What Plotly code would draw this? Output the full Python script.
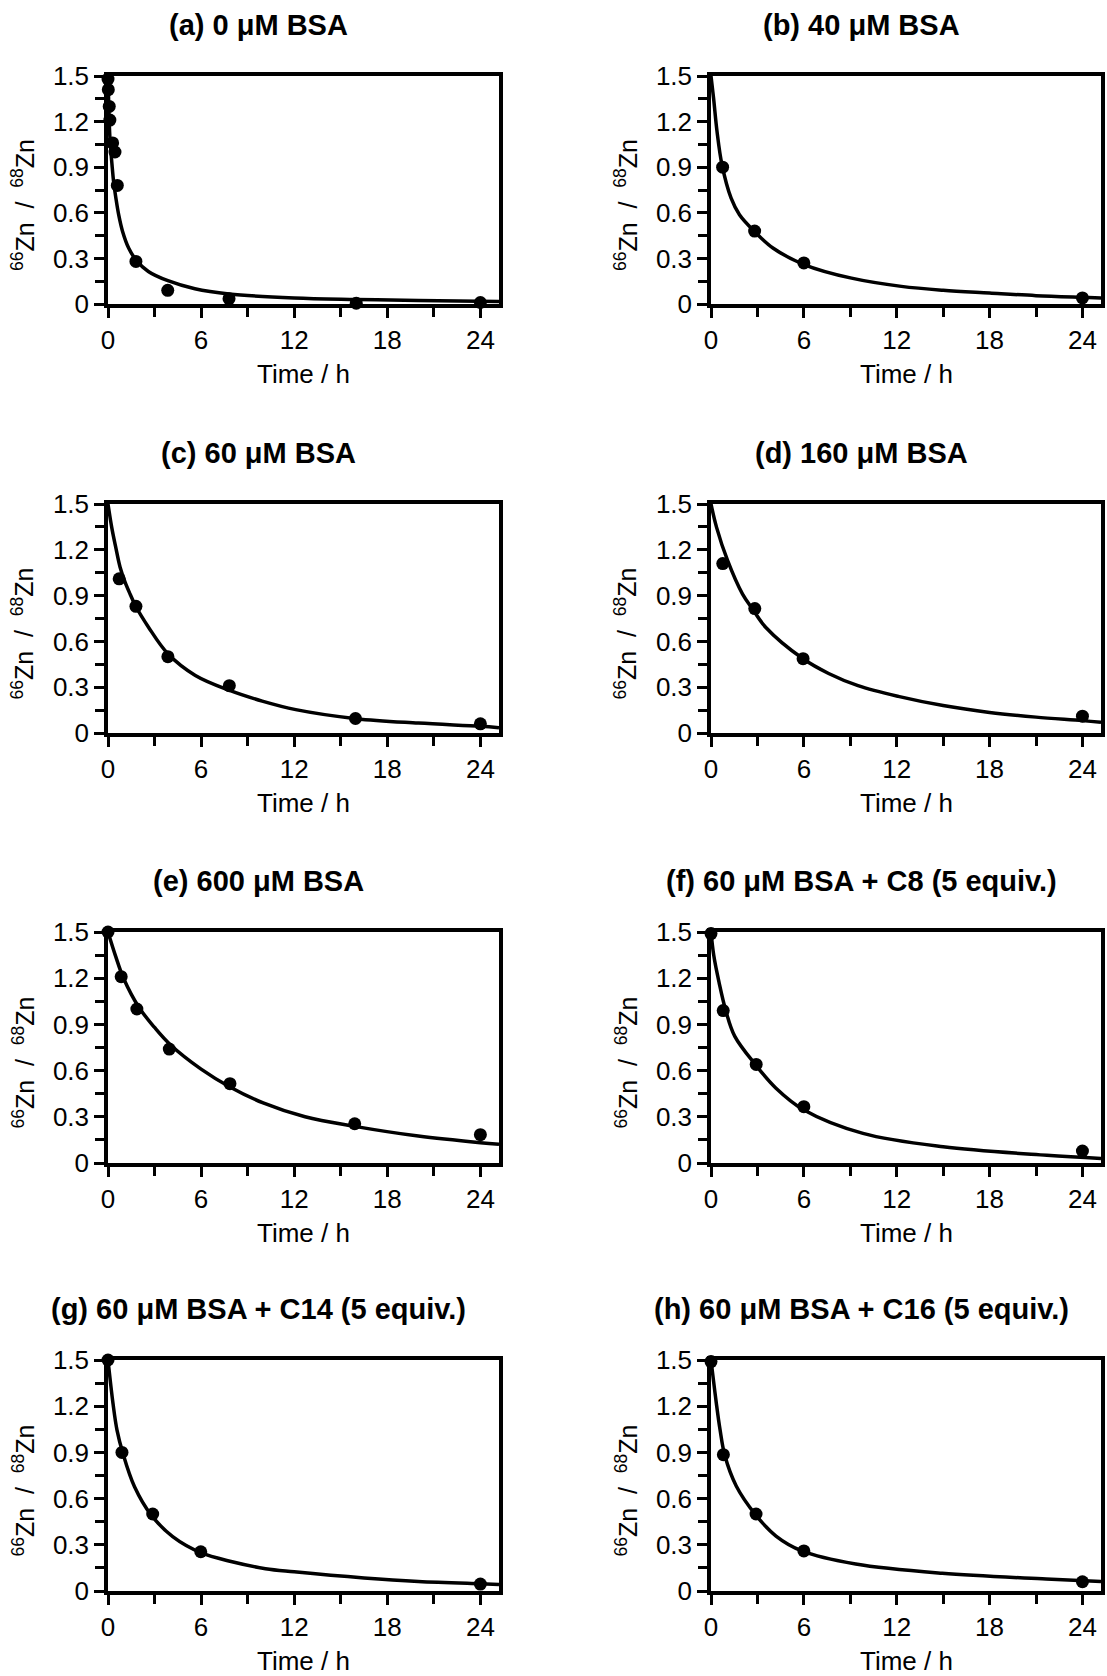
import plotly.graph_objects as go

# panel titles
titles = ["(a) 0 μM BSA", "(b) 40 μM BSA", "(c) 60 μM BSA", "(d) 160 μM BSA",
          "(e) 600 μM BSA", "(f) 60 μM BSA + C8 (5 equiv.)",
          "(g) 60 μM BSA + C14 (5 equiv.)", "(h) 60 μM BSA + C16 (5 equiv.)"]

# measured points (time in h, 66Zn/68Zn)
a_t = [0, 0.02, 0.08, 0.12, 0.3, 0.45, 0.6, 1.8, 3.85, 7.8, 16, 24]
a_y = [1.48, 1.41, 1.30, 1.21, 1.06, 1.0, 0.78, 0.28, 0.09, 0.035, 0.005, 0.01]
b_t = [0.75, 2.82, 6, 24]
b_y = [0.9, 0.48, 0.27, 0.04]
c_t = [0.72, 1.8, 3.86, 7.82, 15.95, 24]
c_y = [1.01, 0.83, 0.50, 0.31, 0.095, 0.06]
d_t = [0.76, 2.83, 5.95, 24]
d_y = [1.11, 0.815, 0.487, 0.11]
e_t = [0, 0.85, 1.86, 3.95, 7.86, 15.9, 24]
e_y = [1.5, 1.21, 1.0, 0.74, 0.515, 0.255, 0.184]
f_t = [0, 0.79, 2.92, 6.0, 24]
f_y = [1.49, 0.99, 0.64, 0.366, 0.078]
g_t = [0, 0.9, 2.88, 5.98, 24]
g_y = [1.5, 0.9, 0.5, 0.255, 0.045]
h_t = [0, 0.8, 2.91, 6.0, 24]
h_y = [1.49, 0.885, 0.5, 0.26, 0.06]

# fitted curves
a_fit_t = [0, 0.05, 0.12, 0.26, 0.36, 0.51, 0.69, 0.94, 1.33, 1.8, 2.6, 3.86, 5.6, 7.8, 12, 16, 20, 25.2]
a_fit_y = [1.5, 1.3, 1.1, 0.915, 0.805, 0.696, 0.586, 0.477, 0.368, 0.291, 0.214, 0.153, 0.10, 0.066, 0.04, 0.03, 0.023, 0.016]
b_fit_t = [0, 0.17, 0.39, 0.71, 1.3, 1.84, 2.81, 4.0, 6.05, 9.08, 12.3, 15, 18, 21, 24, 25.2]
b_fit_y = [1.5, 1.35, 1.134, 0.915, 0.696, 0.587, 0.477, 0.368, 0.258, 0.17, 0.116, 0.09, 0.072, 0.055, 0.044, 0.04]
c_fit_t = [0, 0.24, 0.5, 0.78, 1.1, 1.42, 1.79, 2.61, 3.86, 5.63, 7.84, 9.94, 12.1, 16, 20, 24, 25.2]
c_fit_y = [1.5, 1.347, 1.216, 1.086, 0.988, 0.911, 0.83, 0.693, 0.519, 0.377, 0.279, 0.209, 0.153, 0.094, 0.065, 0.044, 0.035]
d_fit_t = [0, 0.36, 1.07, 2.03, 2.68, 3.53, 5.95, 7.6, 9.5, 12.1, 15, 18, 21, 24, 25.2]
d_fit_y = [1.5, 1.347, 1.13, 0.911, 0.813, 0.693, 0.486, 0.39, 0.31, 0.24, 0.18, 0.135, 0.104, 0.081, 0.07]
e_fit_t = [0, 0.5, 1, 2, 3, 4, 6, 7.86, 10, 12.7, 15.9, 20, 24, 25.2]
e_fit_y = [1.5, 1.34, 1.2, 1.01, 0.88, 0.77, 0.61, 0.494, 0.39, 0.30, 0.238, 0.175, 0.132, 0.122]
f_fit_t = [0, 0.18, 0.52, 0.96, 1.53, 2.87, 4.2, 6.01, 9.82, 15, 21.7, 25.2]
f_fit_y = [1.5, 1.347, 1.173, 0.988, 0.824, 0.639, 0.486, 0.344, 0.192, 0.105, 0.05, 0.03]
g_fit_t = [0, 0.32, 0.58, 0.96, 1.71, 2.78, 4.17, 5.98, 8, 10.15, 12, 16.5, 20, 24, 25.2]
g_fit_y = [1.5, 1.219, 1.045, 0.894, 0.677, 0.494, 0.353, 0.249, 0.19, 0.145, 0.125, 0.085, 0.062, 0.047, 0.043]
h_fit_t = [0, 0.34, 0.58, 0.89, 1.63, 2.86, 4.2, 5.88, 9.35, 14.94, 21.66, 25.2]
h_fit_y = [1.5, 1.223, 1.05, 0.881, 0.682, 0.498, 0.357, 0.26, 0.175, 0.115, 0.078, 0.062]

x_ticks = [0, 6, 12, 18, 24]
x_ticktext = ["0", "6", "12", "18", "24"]
x_minor = [3, 9, 15, 21]
y_ticks = [0, 0.3, 0.6, 0.9, 1.2, 1.5]
y_ticktext = ["0", "0.3", "0.6", "0.9", "1.2", "1.5"]
y_minor = [0.15, 0.45, 0.75, 1.05, 1.35]

panels = [(a_t, a_y, a_fit_t, a_fit_y), (b_t, b_y, b_fit_t, b_fit_y),
          (c_t, c_y, c_fit_t, c_fit_y), (d_t, d_y, d_fit_t, d_fit_y),
          (e_t, e_y, e_fit_t, e_fit_y), (f_t, f_y, f_fit_t, f_fit_y),
          (g_t, g_y, g_fit_t, g_fit_y), (h_t, h_y, h_fit_t, h_fit_y)]

W, H = 1107, 1676
cols = [(108, 499), (711, 1101)]
rows = [(76, 304), (504, 733), (932, 1163), (1360, 1591)]
FONT = "Liberation Sans, Arial, sans-serif"

fig = go.Figure()
annotations = []
layout = {}
for i, (pt, py, ft, fy) in enumerate(panels):
    n = i + 1
    sfx = "" if n == 1 else str(n)
    x0, x1 = cols[i % 2]
    y0, y1 = rows[i // 2]
    fig.add_trace(go.Scatter(x=ft, y=fy, mode="lines", line=dict(color="black", width=3.5, shape="spline", smoothing=1.0),
                             xaxis="x" + sfx, yaxis="y" + sfx, showlegend=False, hoverinfo="skip"))
    fig.add_trace(go.Scatter(x=pt, y=py, mode="markers", marker=dict(color="black", size=13),
                             cliponaxis=False, xaxis="x" + sfx, yaxis="y" + sfx, showlegend=False))
    common = dict(showline=True, linecolor="black", linewidth=3.5, mirror=True, showgrid=False, zeroline=False,
                  automargin=False, ticks="outside", ticklen=10, tickwidth=3, tickcolor="black",
                  tickfont=dict(family=FONT, size=26, color="black"))
    layout["xaxis" + sfx] = dict(common, domain=[x0 / W, x1 / W], range=[0, 25.2], anchor="y" + sfx,
                                 tickmode="array", tickvals=x_ticks, ticktext=x_ticktext,
                                 minor=dict(tickmode="array", tickvals=x_minor, ticks="outside", ticklen=9,
                                            tickwidth=3, tickcolor="black"))
    layout["yaxis" + sfx] = dict(common, domain=[1 - y1 / H, 1 - y0 / H], range=[0, 1.5], anchor="x" + sfx,
                                 tickmode="array", tickvals=y_ticks, ticktext=y_ticktext,
                                 minor=dict(tickmode="array", tickvals=y_minor, ticks="outside", ticklen=9,
                                            tickwidth=3, tickcolor="black"))
    cx = (x0 + x1) / 2
    annotations.append(dict(text="<b>" + titles[i] + "</b>", x=(cx - 45) / W, y=1 - (y0 - 51) / H,
                            xref="paper", yref="paper", showarrow=False, xanchor="center", yanchor="middle",
                            font=dict(family=FONT, size=29, color="black")))
    annotations.append(dict(text="Time / h", x=cx / W, y=1 - (y1 + 70) / H, xref="paper", yref="paper",
                            showarrow=False, xanchor="center", yanchor="middle",
                            font=dict(family=FONT, size=26, color="black")))
    annotations.append(dict(text="<sup>66</sup>Zn\u00a0\u00a0/\u00a0\u00a0<sup>68</sup>Zn", x=(x0 - 85) / W,
                            y=1 - ((y0 + y1) / 2 + 15) / H, xref="paper", yref="paper", showarrow=False,
                            textangle=-90, xanchor="center", yanchor="middle",
                            font=dict(family=FONT, size=25, color="black")))

fig.update_layout(layout)
fig.update_layout(width=W, height=H, margin=dict(l=0, r=0, t=0, b=0, autoexpand=False), plot_bgcolor="white",
                  paper_bgcolor="white", annotations=annotations)
fig.write_html("out.html", config={"displayModeBar": False},
               post_script="document.body.style.margin='0';")
